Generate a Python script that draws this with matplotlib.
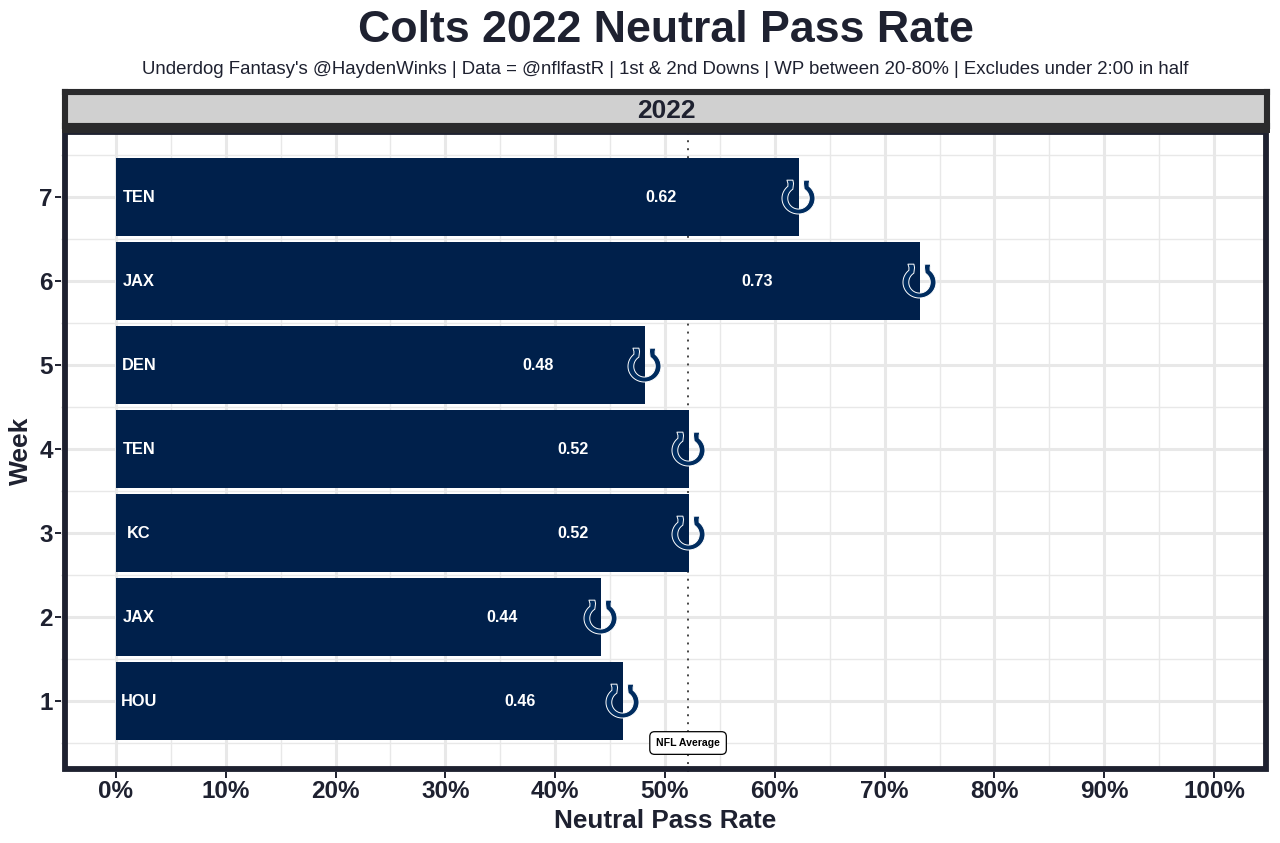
#!/usr/bin/env python3
import numpy as np
import matplotlib
matplotlib.use('Agg')
import matplotlib.pyplot as plt
from matplotlib.patches import Rectangle
from matplotlib.path import Path
from matplotlib.ticker import FuncFormatter

plt.rcParams['font.family'] = ['Liberation Sans', 'DejaVu Sans']

weeks = [1, 2, 3, 4, 5, 6, 7]
pass_rate = [0.462, 0.442, 0.522, 0.522, 0.482, 0.732, 0.622]
rate_labels = ['0.46', '0.44', '0.52', '0.52', '0.48', '0.73', '0.62']
opponents = ['HOU', 'JAX', 'KC', 'TEN', 'DEN', 'JAX', 'TEN']
nfl_average = 0.521
x_ticks = [0, 0.1, 0.2, 0.3, 0.4, 0.5, 0.6, 0.7, 0.8, 0.9, 1.0]

NAVY = '#002C5F'
BAR = '#00204B'
INK = '#1E2130'
BORDER = '#1E2130'
STRIP_EDGE = '#2A2A2C'
GRID = '#E8E8E8'


def horseshoe():
    # logo drawn as a marker, opening upward with the arms curving in
    ang = np.radians(np.linspace(50, -230, 60))
    outer = np.column_stack([np.cos(ang) - 0.06, -0.05 + 0.95 * np.sin(ang)])
    ang_in = np.radians(np.linspace(58, -238, 60))
    inner = np.column_stack([0.65 * np.cos(ang_in) - 0.06, -0.05 + 0.65 * np.sin(ang_in)])
    verts = np.vstack([
        [[0.62, 1.05], [0.58, 0.85]],
        outer,
        [[-0.70, 0.85], [-0.76, 1.05], [-0.40, 1.05], [-0.36, 0.85]],
        inner[::-1],
        [[0.24, 0.85], [0.26, 1.05], [0.62, 1.05]],
    ])
    codes = [Path.MOVETO] + [Path.LINETO] * (len(verts) - 2) + [Path.CLOSEPOLY]
    return Path(verts, codes)


fig = plt.figure(figsize=(12.8, 8.43), dpi=100)
ax = fig.add_axes([61 / 1280, 1 - 772 / 843, 1208 / 1280, 638 / 843])

ax.set_xlim(-0.05, 1.05)
ax.set_ylim(0.155, 7.75)

ax.axvline(nfl_average, color='#444444', linestyle=(0, (1, 3.1)), linewidth=1.4, zorder=1.5)
ax.barh(weeks, pass_rate, height=0.92, color=BAR, zorder=2)

for wk, val, lab, opp in zip(weeks, pass_rate, rate_labels, opponents):
    ax.text(float(lab) * 0.8, wk - 0.008, lab, color='white', ha='center', va='center',
            fontsize=11.6, fontweight='bold', zorder=4)
    ax.text(0.021, wk - 0.008, opp, color='white', ha='center', va='center',
            fontsize=11.8, fontweight='bold', zorder=4)

ax.scatter(pass_rate, weeks, marker=horseshoe(), s=635, facecolor=NAVY,
           edgecolor='white', linewidth=0.7, zorder=5)

ax.text(nfl_average, 0.5, 'NFL Average', ha='center', va='center', fontsize=7.6,
        fontweight='bold', color='black', zorder=6,
        bbox=dict(boxstyle='round,pad=0.6,rounding_size=0.45', fc='white', ec='black', lw=0.9))

# gridlines
ax.set_xticks(x_ticks)
ax.set_xticks(np.array(x_ticks[:-1]) + 0.05, minor=True)
ax.set_yticks(weeks)
ax.set_yticks(np.array(weeks + [0]) + 0.5, minor=True)
ax.grid(which='major', color=GRID, linewidth=2.2, zorder=0)
ax.grid(which='minor', color=GRID, linewidth=1.0, zorder=0)
ax.set_axisbelow(True)

ax.xaxis.set_major_formatter(FuncFormatter(lambda v, _: f'{v * 100:.0f}%'))
ax.tick_params(axis='both', which='major', labelsize=17.5, colors=INK, length=4, width=1.4, pad=2)
ax.tick_params(axis='both', which='minor', length=0)
for lab in ax.get_xticklabels() + ax.get_yticklabels():
    lab.set_fontweight('bold')

ax.set_xlabel('Neutral Pass Rate', fontsize=18.8, fontweight='bold', color=INK)
ax.xaxis.set_label_coords(0.5, -0.0578)
ax.set_ylabel('Week', fontsize=19, fontweight='bold', color=INK)
ax.yaxis.set_label_coords(-0.0228, 0.504)

# panel border sits inside the panel edge
for s in ax.spines.values():
    s.set_visible(False)
ax.add_patch(Rectangle((0.0033, 0.0047), 0.9942, 0.9984, transform=ax.transAxes, fill=False,
                       ec=BORDER, lw=4.2, zorder=7, clip_on=False))

# facet strip
strip = fig.add_axes([65 / 1280, 1 - 126 / 843, 1202 / 1280, 34 / 843])
strip.set_xticks([])
strip.set_yticks([])
strip.set_facecolor('#D0D0D0')
for s in strip.spines.values():
    s.set_color(STRIP_EDGE)
    s.set_linewidth(4.4)
strip.text(0.5, 0.44, '2022', transform=strip.transAxes, ha='center', va='center',
           fontsize=19, fontweight='bold', color=INK)
# dark band between strip and panel
fig.add_artist(Rectangle((62 / 1280, 1 - 133 / 843), 1208 / 1280, 10 / 843,
                         transform=fig.transFigure, fc=STRIP_EDGE, ec='none', zorder=8))

fig.text(666 / 1280, 1 - 30 / 843, 'Colts 2022 Neutral Pass Rate', ha='center', va='center',
         fontsize=32.2, fontweight='bold', color=INK)
fig.text(665.5 / 1280, 1 - 69.5 / 843,
         "Underdog Fantasy's @HaydenWinks | Data = @nflfastR | 1st & 2nd Downs | "
         "WP between 20-80% | Excludes under 2:00 in half",
         ha='center', va='center', fontsize=13.43, color=INK)

plt.savefig('out.png', dpi=100)
